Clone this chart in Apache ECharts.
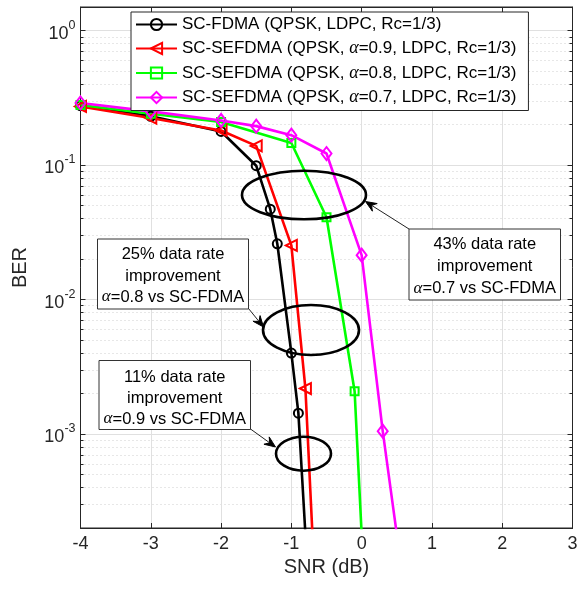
<!DOCTYPE html>
<html lang="en">
<head>
<meta charset="UTF-8">
<title>BER vs SNR</title>
<script src="https://cdn.jsdelivr.net/npm/echarts@6/dist/echarts.min.js"></script>
<style>
    html, body { margin: 0; padding: 0; background: #fff; }
    #chart { width: 587px; height: 590px; }
</style>
</head>
<body>
<div id="chart"></div>
<script type="text/javascript">
    // values
    var seriesNames = [
        'SC-FDMA (QPSK, LDPC, Rc=1/3)',
        'SC-SEFDMA (QPSK, α=0.9, LDPC, Rc=1/3)',
        'SC-SEFDMA (QPSK, α=0.8, LDPC, Rc=1/3)',
        'SC-SEFDMA (QPSK, α=0.7, LDPC, Rc=1/3)'
    ];
    var snrFdma = [-4, -3, -2, -1.5, -1.3, -1.2, -1, -0.9, -0.8];
    var berFdma = [0.277, 0.231, 0.178, 0.099, 0.047, 0.026, 0.0040, 0.00143, 0.00018];
    var snrA09 = [-4, -3, -2, -1.5, -1, -0.8, -0.7];
    var berA09 = [0.273, 0.224, 0.181, 0.139, 0.0253, 0.00218, 0.00018];
    var snrA08 = [-4, -3, -2, -1, -0.5, -0.1, 0];
    var berA08 = [0.28, 0.241, 0.209, 0.146, 0.041, 0.00208, 0.00018];
    var snrA07 = [-4, -3, -2, -1.5, -1, -0.5, 0, 0.3, 0.5];
    var berA07 = [0.29, 0.251, 0.215, 0.195, 0.167, 0.122, 0.0214, 0.00105, 0.00018];
    var xTicks = [-4, -3, -2, -1, 0, 1, 2, 3];

    var font = 'Liberation Sans, Helvetica, Arial, sans-serif';
    var axisColor = '#262626';

    function pairs(xs, ys) {
        return xs.map(function (x, i) { return [x, ys[i]]; });
    }

    function lineSeries(name, xs, ys, color, symbol, size, rotate) {
        return {
            name: name,
            type: 'line',
            data: pairs(xs, ys),
            symbol: symbol,
            symbolSize: size,
            symbolRotate: rotate || 0,
            showAllSymbol: true,
            lineStyle: { color: color, width: 2.6 },
            itemStyle: { color: 'rgba(255,255,255,0)', borderColor: color, borderWidth: 2 },
            emphasis: { disabled: true },
            animation: false
        };
    }

    // arrow = thin line + notched head
    function arrow(x1, y1, x2, y2) {
        var dx = x2 - x1, dy = y2 - y1;
        var len = Math.sqrt(dx * dx + dy * dy);
        var ux = dx / len, uy = dy / len, nx = -uy, ny = ux;
        var L = 11, W = 4.5;
        var bx = x2 - L * ux, by = y2 - L * uy;
        var mx = x2 - 0.65 * L * ux, my = y2 - 0.65 * L * uy;
        return [{
            type: 'line', z: 100,
            shape: { x1: x1, y1: y1, x2: mx, y2: my },
            style: { stroke: '#222', lineWidth: 1 }
        }, {
            type: 'polygon', z: 100,
            shape: { points: [[x2, y2], [bx + W * nx, by + W * ny], [mx, my], [bx - W * nx, by - W * ny]] },
            style: { fill: '#000', stroke: '#000', lineWidth: 1 }
        }];
    }

    function ellipse(cx, cy, rx, ry) {
        return {
            type: 'ellipse', z: 100,
            shape: { cx: cx, cy: cy, rx: rx, ry: ry },
            style: { fill: 'none', stroke: '#000', lineWidth: 2.6 }
        };
    }

    function noteBox(x, y, w, h, lines, lineY) {
        var items = [{
            type: 'rect', z: 100,
            shape: { x: x, y: y, width: w, height: h },
            style: { fill: '#fff', stroke: '#333', lineWidth: 1 }
        }];
        lines.forEach(function (t, i) {
            items.push({
                type: 'text', z: 101,
                x: x + w / 2, y: lineY[i],
                style: {
                    text: t,
                    fill: '#000',
                    font: '16.5px ' + font,
                    align: 'center',
                    verticalAlign: 'middle',
                    rich: {
                        a: { fontFamily: 'Liberation Serif, DejaVu Serif, serif', fontStyle: 'italic', fontSize: 17 }
                    }
                }
            });
        });
        return items;
    }

    var graphics = [].concat(
        ellipse(304, 195, 62, 24.3),
        ellipse(311, 330, 48, 25),
        ellipse(303.5, 453.7, 27.5, 17),
        noteBox(97.5, 239, 151, 70, ['25% data rate', 'improvement', '{a|α}=0.8 vs SC-FDMA'], [254, 276, 297]),
        noteBox(99, 360.5, 151.5, 69, ['11% data rate', 'improvement', '{a|α}=0.9 vs SC-FDMA'], [377, 398, 419]),
        noteBox(409, 229, 151.5, 71, ['43% data rate', 'improvement', '{a|α}=0.7 vs SC-FDMA'], [244.5, 266.5, 288.5]),
        arrow(248.5, 308.5, 263.5, 327),
        arrow(250.5, 429, 275.5, 447),
        arrow(409, 229, 365.5, 201.5)
    );

    var chart = echarts.init(document.getElementById('chart'), null, { renderer: 'canvas' });
    var option = {
        backgroundColor: '#fff',
        animation: false,
        textStyle: { fontFamily: font },
        grid: {
            left: 80.5, right: 14.5, top: 7, bottom: 62,
            show: true, borderColor: axisColor, borderWidth: 1, backgroundColor: 'transparent'
        },
        legend: {
            orient: 'vertical',
            left: 131, top: 12,
            padding: [4, 12, 4, 4],
            itemWidth: 41, itemHeight: 14, itemGap: 6.5,
            backgroundColor: '#fff',
            borderColor: axisColor, borderWidth: 1,
            data: seriesNames,
            formatter: function (name) { return name.replace('α', '{a|α}'); },
            textStyle: {
                fontSize: 17, color: '#000', fontFamily: font, lineHeight: 17,
                rich: { a: { fontFamily: 'Liberation Serif, DejaVu Serif, serif', fontStyle: 'italic', fontSize: 18, lineHeight: 17 } }
            },
            itemStyle: { borderWidth: 2 },
            selectedMode: false
        },
        xAxis: [{
            type: 'value',
            min: xTicks[0], max: xTicks[xTicks.length - 1], interval: 1,
            name: 'SNR (dB)', nameLocation: 'middle', nameGap: 27,
            nameTextStyle: { fontSize: 20, color: axisColor, fontFamily: font },
            axisLine: { show: true, onZero: false, lineStyle: { color: axisColor } },
            axisTick: { show: true, inside: true, length: 5, lineStyle: { color: axisColor } },
            axisLabel: { fontSize: 18, color: axisColor, margin: 7, fontFamily: font },
            splitLine: { show: true, lineStyle: { color: '#e0e0e0', width: 1 } }
        }, {
            type: 'value', position: 'top',
            min: xTicks[0], max: xTicks[xTicks.length - 1], interval: 1,
            axisLine: { show: true, onZero: false, lineStyle: { color: axisColor } },
            axisTick: { show: true, inside: true, length: 5, lineStyle: { color: axisColor } },
            axisLabel: { show: false },
            splitLine: { show: false }
        }],
        yAxis: [{
            type: 'log', logBase: 10,
            min: 2e-4, max: 1.5,
            name: 'BER', nameLocation: 'middle', nameGap: 50,
            nameTextStyle: { fontSize: 20, color: axisColor, fontFamily: font },
            axisLine: { show: true, onZero: false, lineStyle: { color: axisColor } },
            axisTick: { show: true, inside: true, length: 5, lineStyle: { color: axisColor } },
            minorTick: { show: true, splitNumber: 9, length: 3, lineStyle: { color: axisColor } },
            axisLabel: {
                showMinLabel: false, showMaxLabel: false, margin: 5,
                formatter: function (v) {
                    var e = Math.round(Math.log(v) / Math.LN10);
                    return '{b|10}{s|' + e + '}';
                },
                rich: {
                    b: { fontSize: 18, color: axisColor, fontFamily: font, padding: [6, 0, 0, 0] },
                    s: { fontSize: 12.5, color: axisColor, fontFamily: font, verticalAlign: 'top' }
                }
            },
            splitLine: { show: true, lineStyle: { color: '#e0e0e0', width: 1 } },
            minorSplitLine: { show: true, lineStyle: { color: '#cfcfcf', width: 1, type: [1, 3] } }
        }, {
            type: 'log', logBase: 10, position: 'right',
            min: 2e-4, max: 1.5,
            axisLine: { show: true, onZero: false, lineStyle: { color: axisColor } },
            axisTick: { show: true, inside: true, length: 5, lineStyle: { color: axisColor } },
            minorTick: { show: true, splitNumber: 9, length: 3, lineStyle: { color: axisColor } },
            axisLabel: { show: false },
            splitLine: { show: false }
        }],
        series: [
            lineSeries(seriesNames[0], snrFdma, berFdma, '#000000', 'circle', 9),
            lineSeries(seriesNames[1], snrA09, berA09, '#ff0000', 'triangle', 11, 90),
            lineSeries(seriesNames[2], snrA08, berA08, '#00ff00', 'rect', 8),
            lineSeries(seriesNames[3], snrA07, berA07, '#ff00ff', 'diamond', [10, 13])
        ],
        graphic: graphics
    };
    chart.setOption(option);
</script>
</body>
</html>
